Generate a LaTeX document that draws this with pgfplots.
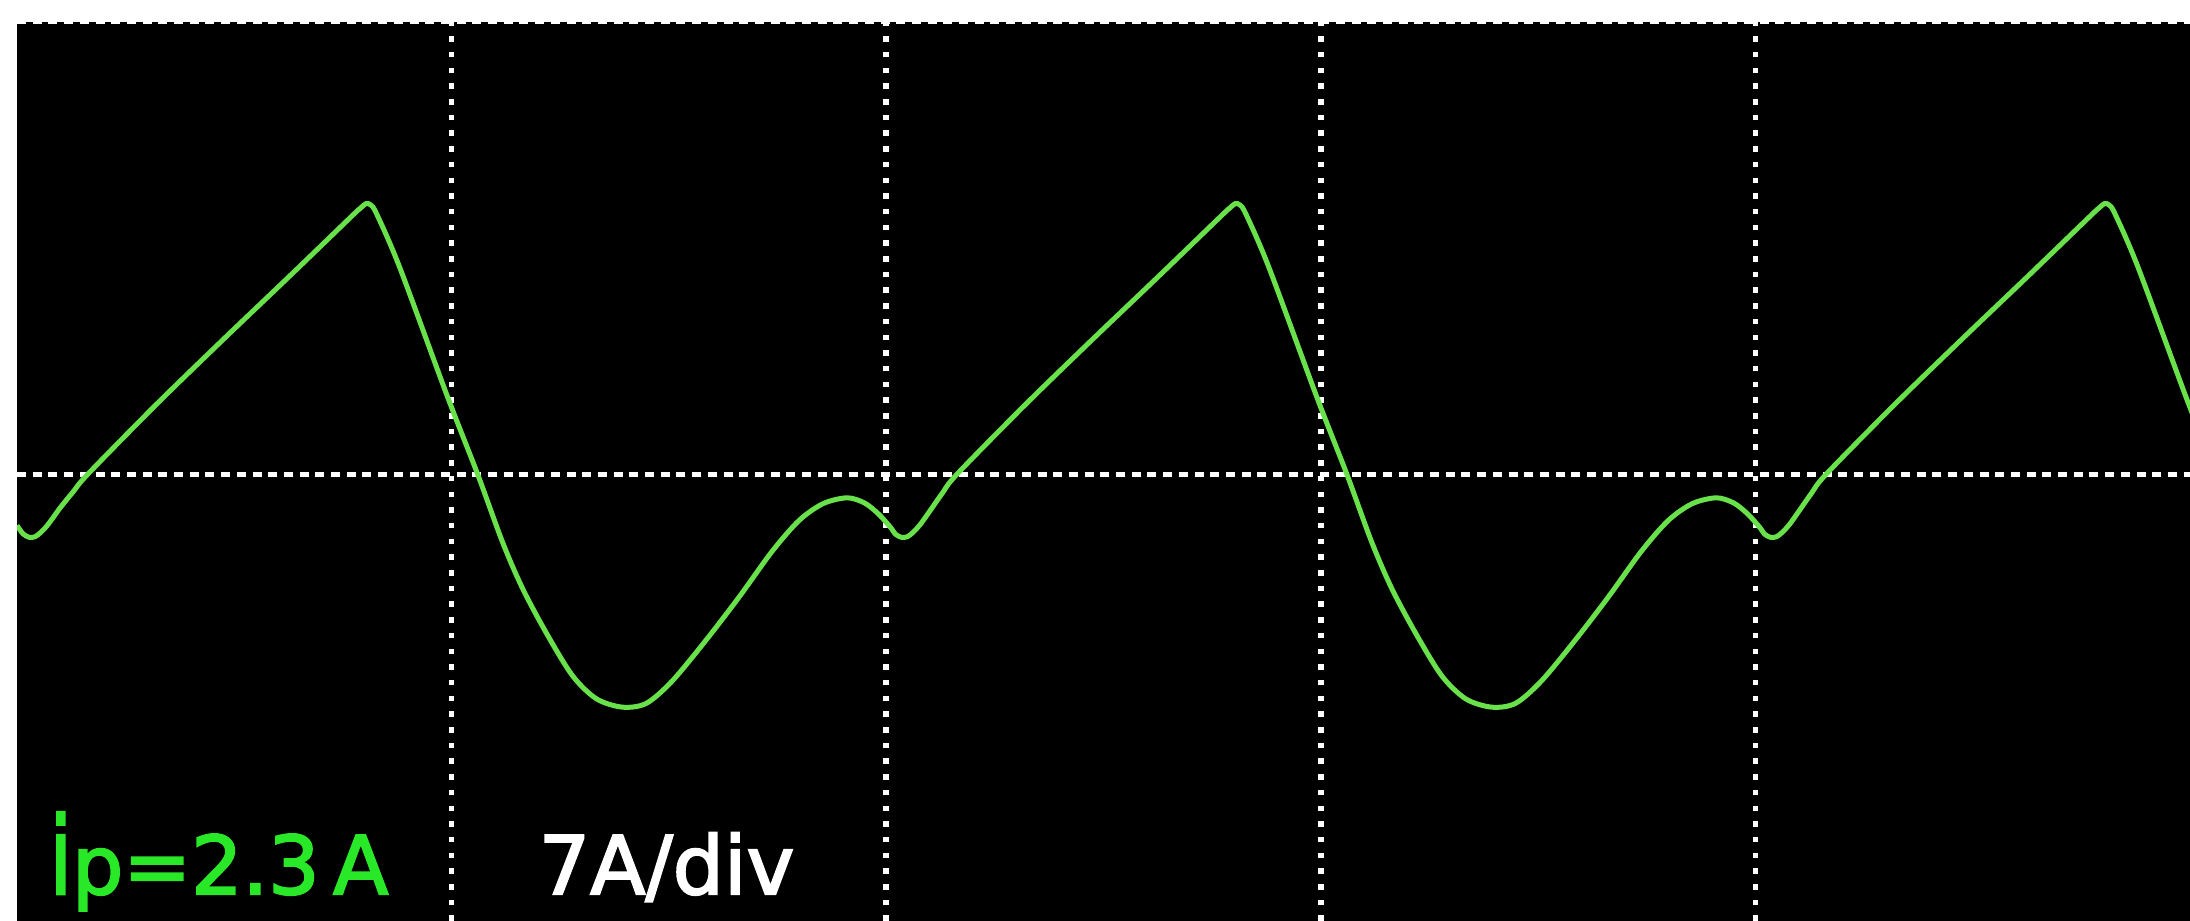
\documentclass[border=0pt]{standalone}
\usepackage{fontspec}
\setmainfont{DejaVu Sans}
\newfontfamily\scopefont[FakeBold=2.5]{DejaVu Sans}
\usepackage{graphicx}
\usepackage{pgfplots}
\pgfplotsset{compat=1.18}

\definecolor{trace}{RGB}{105,225,75}
\definecolor{labelgreen}{RGB}{40,232,40}

\begin{document}
\begin{tikzpicture}
\fill[white] (0,0) rectangle (219mm,92.1mm);
\begin{axis}[
  at={(1.7mm,0mm)}, anchor=south west,
  scale only axis,
  width=217.3mm, height=89.9mm,
  xmin=0, xmax=5,
  ymin=-6.96, ymax=7.04,
  axis background/.style={fill=black},
  axis line style={draw=none},
  xtick={1,2,3,4}, ytick={0,7.04},
  xticklabels={}, yticklabels={},
  major tick length=0pt,
  xmajorgrids, ymajorgrids,
  major x grid style={white, line width=0.55mm, dash pattern=on 0.55mm off 1.02mm},
  major y grid style={white, line width=0.5mm, dash pattern=on 0.9mm off 0.67mm},
]
% primary current, x in divisions, y in A (7 A/div)
\addplot[trace, line width=0.5mm, smooth, tension=0.5] coordinates {
(0.0000,-0.800) (0.0138,-0.930) (0.0280,-0.985) (0.0420,-0.975) (0.0560,-0.900)
(0.0720,-0.780) (0.1000,-0.520) (0.1300,-0.270) (0.1632,0.000) (0.3200,1.080)
(0.4736,2.090) (0.6300,3.100) (0.7724,4.030) (0.7885,4.130) (0.8030,4.210)
(0.8140,4.190) (0.8276,4.050) (0.8805,3.220) (0.9908,1.200) (1.0598,0.000)
(1.1172,-1.060) (1.1632,-1.780) (1.2184,-2.480) (1.2782,-3.140) (1.3333,-3.500)
(1.3931,-3.630) (1.4483,-3.570) (1.5080,-3.220) (1.5862,-2.580) (1.6621,-1.910)
(1.7379,-1.200) (1.8000,-0.720) (1.8550,-0.460) (1.9100,-0.370) (1.9500,-0.450)
(1.9820,-0.620) (2.0100,-0.830) (2.0210,-0.935) (2.0350,-0.985) (2.0490,-0.975)
(2.0630,-0.900) (2.0790,-0.780) (2.1000,-0.580) (2.1300,-0.290) (2.1632,0.000)
(2.3200,1.080) (2.4736,2.090) (2.6300,3.100) (2.7724,4.030) (2.7885,4.130)
(2.8030,4.210) (2.8140,4.190) (2.8276,4.050) (2.8805,3.220) (2.9908,1.200)
(3.0598,0.000) (3.1172,-1.060) (3.1632,-1.780) (3.2184,-2.480) (3.2782,-3.140)
(3.3333,-3.500) (3.3931,-3.630) (3.4483,-3.570) (3.5080,-3.220) (3.5862,-2.580)
(3.6621,-1.910) (3.7379,-1.200) (3.8000,-0.720) (3.8550,-0.460) (3.9100,-0.370)
(3.9500,-0.450) (3.9820,-0.620) (4.0100,-0.830) (4.0210,-0.935) (4.0350,-0.985)
(4.0490,-0.975) (4.0630,-0.900) (4.0790,-0.780) (4.1000,-0.580) (4.1300,-0.290)
(4.1632,0.000) (4.3200,1.080) (4.4736,2.090) (4.6300,3.100) (4.7724,4.030)
(4.7885,4.130) (4.8030,4.210) (4.8140,4.190) (4.8276,4.050) (4.8805,3.220)
(4.9908,1.200) (5.0598,0.000)
};
\node[anchor=base west, inner sep=0pt, text=labelgreen, font=\scopefont\fontsize{23pt}{27pt}\selectfont]
  at (rel axis cs:0.0147,0.030) {\scalebox{1}[1.33]{i}p=2.3\,A};
\node[anchor=base west, inner sep=0pt, text=white, font=\scopefont\fontsize{23pt}{27pt}\selectfont]
  at (rel axis cs:0.2398,0.030) {7A/div};
\end{axis}
\pgfresetboundingbox
\path (0,0) rectangle (219mm,92.1mm);
\end{tikzpicture}
\end{document}
